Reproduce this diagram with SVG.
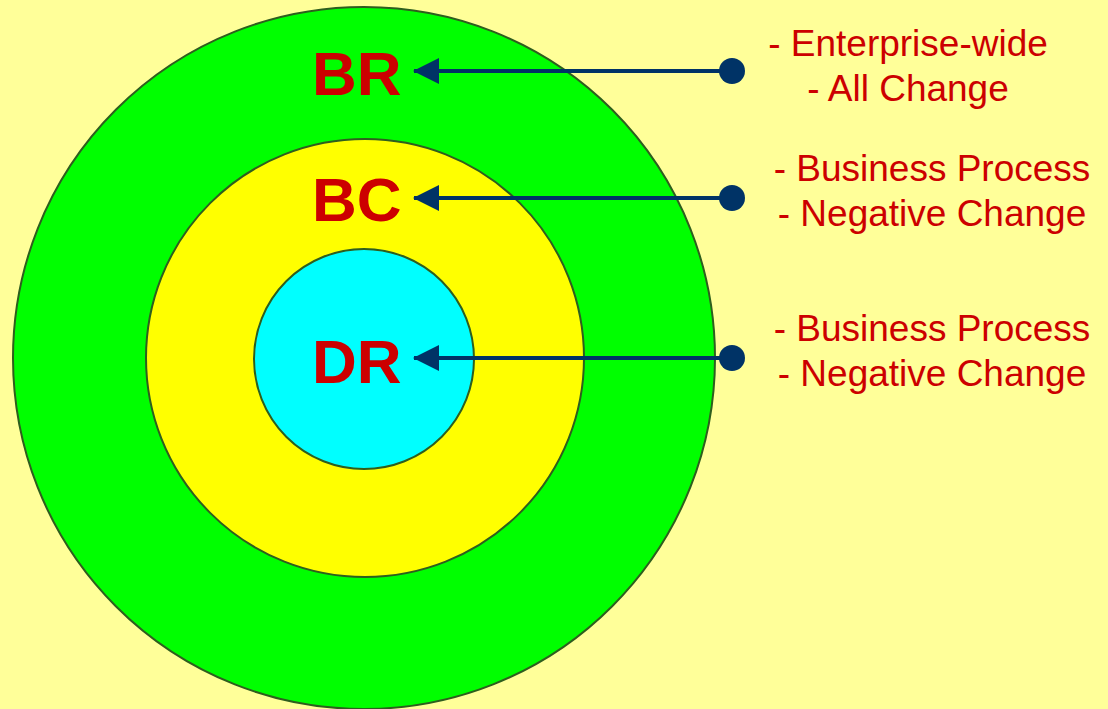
<svg xmlns="http://www.w3.org/2000/svg" width="1108" height="709" viewBox="0 0 1108 709">
<defs>
<style>
.ring{stroke:#2E5E1E;stroke-width:2}
.lbl{font-family:"Liberation Sans",Arial,sans-serif;font-weight:bold;font-size:62px;fill:#CC0000}
.desc{font-family:"Liberation Sans",Arial,sans-serif;font-size:37px;fill:#CC0000;text-anchor:middle}
.conn{stroke:#003366;stroke-width:4;fill:none}
.dot{fill:#003366}
</style>
<marker id="ah" viewBox="0 0 26 26" refX="25" refY="13" markerWidth="26" markerHeight="26" markerUnits="userSpaceOnUse" orient="auto">
<path d="M26,13 L0,0 L0,26 Z" fill="#003366"/>
</marker>
</defs>
<rect width="1108" height="709" fill="#FFFF99"/>
<g id="node-br">
<circle class="ring" cx="364" cy="358" r="351" fill="#00FF00"/>
<text class="lbl" x="312" y="95">BR</text>
</g>
<g id="node-bc">
<circle class="ring" cx="365" cy="358" r="219" fill="#FFFF00"/>
<text class="lbl" x="312" y="221">BC</text>
</g>
<g id="node-dr">
<circle class="ring" cx="364" cy="359" r="110" fill="#00FFFF"/>
<text class="lbl" x="312" y="383">DR</text>
</g>
<g id="connectors">
<line class="conn" x1="732" y1="71" x2="414" y2="71" marker-end="url(#ah)"/>
<circle class="dot" cx="732" cy="71" r="13"/>
<line class="conn" x1="732" y1="198" x2="414" y2="198" marker-end="url(#ah)"/>
<circle class="dot" cx="732" cy="198" r="13"/>
<line class="conn" x1="732" y1="358" x2="414" y2="358" marker-end="url(#ah)"/>
<circle class="dot" cx="732" cy="358" r="13"/>
</g>
<g id="note-br">
<text class="desc" x="908" y="56">- Enterprise-wide</text>
<text class="desc" x="908" y="101">- All Change</text>
</g>
<g id="note-bc">
<text class="desc" x="932" y="181">- Business Process</text>
<text class="desc" x="932" y="226">- Negative Change</text>
</g>
<g id="note-dr">
<text class="desc" x="932" y="341">- Business Process</text>
<text class="desc" x="932" y="386">- Negative Change</text>
</g>
</svg>
